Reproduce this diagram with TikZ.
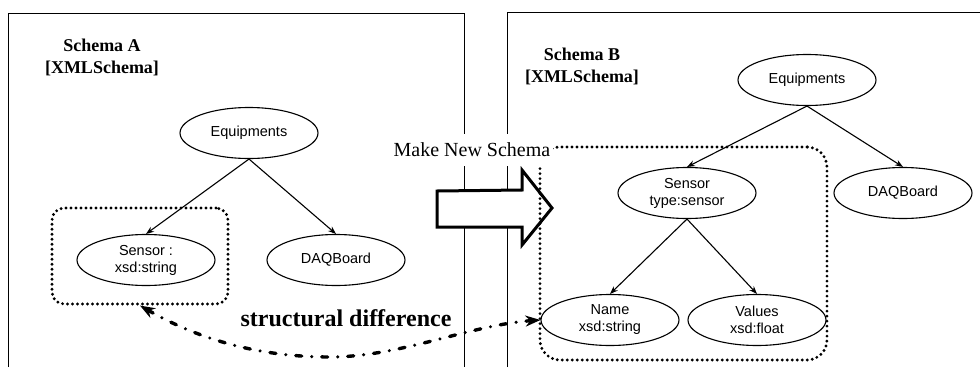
\documentclass[tikz,border=0pt]{standalone}
\usepackage{fontspec}
\setmainfont{Liberation Serif}
\newfontfamily\arialfont{Liberation Sans}
\usetikzlibrary{arrows.meta,shapes.geometric}

\begin{document}
\begin{tikzpicture}[x=1pt,y=-1pt,>={Stealth[length=8pt,width=6pt]},
  elem/.style={ellipse, draw, line width=1.1pt, fill=white, inner sep=0pt,
    minimum width=138, minimum height=51, align=center,
    font=\arialfont\fontsize{14.5}{17}\selectfont},
  title/.style={align=center, font=\bfseries\fontsize{18}{22}\selectfont},
  diffbox/.style={draw, line width=3.2pt, line cap=round,
    dash pattern=on 0pt off 5pt},
  tree/.style={->, line width=1.1pt}]

  \useasboundingbox (0,0) rectangle (980,367);

  % the two schema frames
  \draw[line width=0.9pt] (8,367) -- (8,13) -- (464,13) -- (464,367);
  \draw[line width=0.9pt] (507,367) -- (507,12) -- (980,12);

  \node[title] (tA) at (102,57) {Schema A\\{[}XMLSchema{]}};
  \node[title] (tB) at (582,66) {Schema B\\{[}XMLSchema{]}};

  \node[elem] (eqA)  at (249,133) {Equipments};
  \node[elem] (senA) at (146,260) {Sensor :\\xsd:string};
  \node[elem] (daqA) at (336,260) {DAQBoard};

  \node[elem] (eqB)   at (807,80)  {Equipments};
  \node[elem] (senB)  at (687,193) {Sensor\\type:sensor};
  \node[elem] (daqB)  at (903,193) {DAQBoard};
  \node[elem] (nameB) at (610,320) {Name\\xsd:string};
  \node[elem] (valB)  at (757,320) {Values\\xsd:float};

  \path[tree]
    (eqA.south) edge (senA.north)
                edge (daqA.north)
    (eqB.south) edge (senB.north)
                edge (daqB.north)
    (senB.south) edge (nameB.north)
                 edge (valB.north);

  % make new schema arrow
  \draw[line width=3pt, fill=white, line join=miter]
    (437,191) -- (522,190) -- (522,170) -- (552,208) -- (522,245)
    -- (522,227) -- (437,227) -- cycle;

  \node[diffbox, rounded corners=12, minimum width=176, minimum height=96]
    (difA) at (140,256) {};
  \node[diffbox, rounded corners=20, minimum width=287, minimum height=213]
    (difB) at (683.5,253.5) {};

  \node[fill=white, inner xsep=3pt, inner ysep=9pt,
    font=\fontsize{20}{22}\selectfont] (mk) at (472,150) {Make New Schema};

  \draw[{Stealth[length=15pt,width=11pt]}-{Stealth[length=15pt,width=11pt]},
    line width=3.4pt, line cap=round,
    dash pattern=on 6pt off 10pt on 0pt off 10pt]
    (difA.south) .. controls (200,340) and (260,357) .. (330,357)
    .. controls (400,357) and (470,325) .. (nameB.west);
  \node[font=\bfseries\fontsize{24}{26}\selectfont] (sd) at (346,318)
    {structural difference};

\end{tikzpicture}
\end{document}
